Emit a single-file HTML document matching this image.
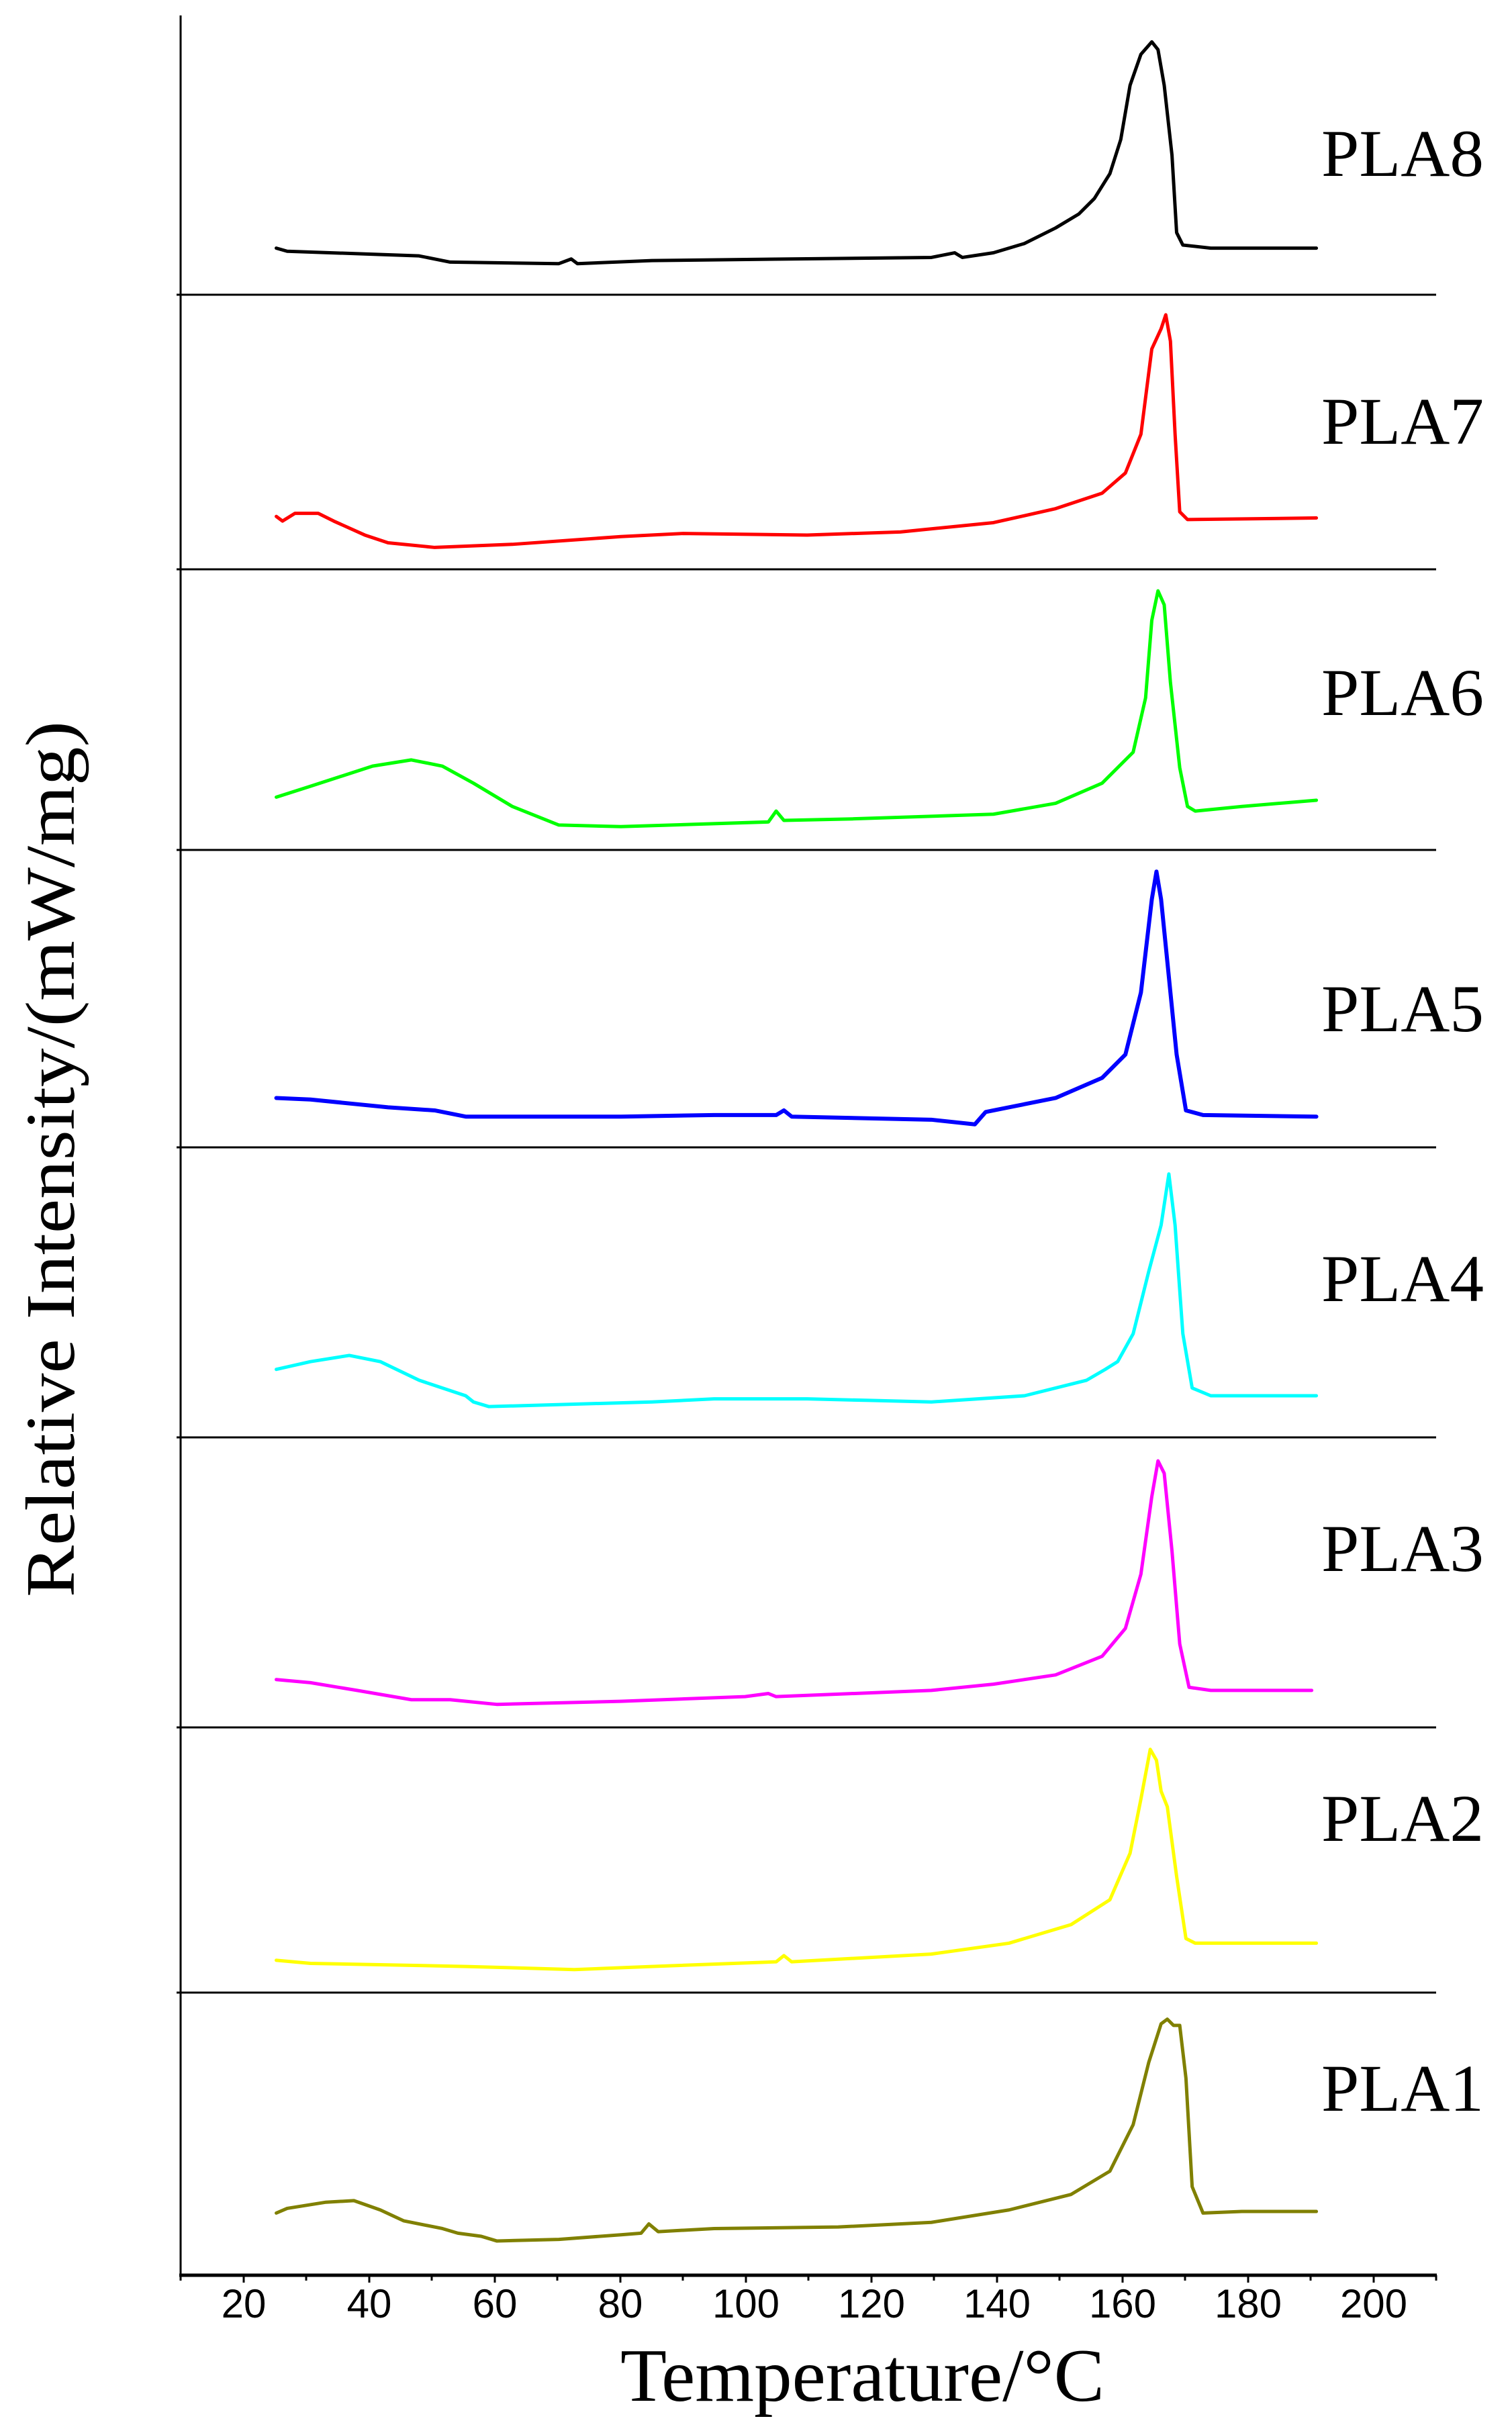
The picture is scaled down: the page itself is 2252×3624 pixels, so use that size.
<!DOCTYPE html>
<html><head><style>html,body{margin:0;padding:0;background:#fff}svg{display:block}</style></head>
<body>
<svg width="2252" height="3624" viewBox="0 0 2252 3624" xmlns="http://www.w3.org/2000/svg">
<rect width="2252" height="3624" fill="#fff"/>
<g stroke="#000" fill="none">
<line x1="269" y1="23" x2="269" y2="3390" stroke-width="3"/>
<line x1="267" y1="3389" x2="2140" y2="3389" stroke-width="5"/>
<g stroke-width="3">
<line x1="263" y1="439" x2="2139" y2="439"/>
<line x1="263" y1="848" x2="2139" y2="848"/>
<line x1="263" y1="1266" x2="2139" y2="1266"/>
<line x1="263" y1="1709" x2="2139" y2="1709"/>
<line x1="263" y1="2141" x2="2139" y2="2141"/>
<line x1="263" y1="2573" x2="2139" y2="2573"/>
<line x1="263" y1="2968" x2="2139" y2="2968"/>
</g>
<g stroke-width="3">
<line x1="269" y1="3389" x2="269" y2="3397"/>
<line x1="363" y1="3389" x2="363" y2="3400"/>
<line x1="456" y1="3389" x2="456" y2="3397"/>
<line x1="550" y1="3389" x2="550" y2="3400"/>
<line x1="643" y1="3389" x2="643" y2="3397"/>
<line x1="737" y1="3389" x2="737" y2="3400"/>
<line x1="830" y1="3389" x2="830" y2="3397"/>
<line x1="924" y1="3389" x2="924" y2="3400"/>
<line x1="1017" y1="3389" x2="1017" y2="3397"/>
<line x1="1111" y1="3389" x2="1111" y2="3400"/>
<line x1="1204" y1="3389" x2="1204" y2="3397"/>
<line x1="1298" y1="3389" x2="1298" y2="3400"/>
<line x1="1391" y1="3389" x2="1391" y2="3397"/>
<line x1="1485" y1="3389" x2="1485" y2="3400"/>
<line x1="1578" y1="3389" x2="1578" y2="3397"/>
<line x1="1672" y1="3389" x2="1672" y2="3400"/>
<line x1="1765" y1="3389" x2="1765" y2="3397"/>
<line x1="1859" y1="3389" x2="1859" y2="3400"/>
<line x1="1952" y1="3389" x2="1952" y2="3397"/>
<line x1="2046" y1="3389" x2="2046" y2="3400"/>
<line x1="2139" y1="3389" x2="2139" y2="3397"/>
</g>
</g>
<g font-family="Liberation Sans, Arial, sans-serif" font-size="60" text-anchor="middle" fill="#000">
<text x="363" y="3452">20</text><text x="550" y="3452">40</text><text x="737" y="3452">60</text>
<text x="924" y="3452">80</text><text x="1111" y="3452">100</text><text x="1298" y="3452">120</text>
<text x="1485" y="3452">140</text><text x="1672" y="3452">160</text><text x="1859" y="3452">180</text>
<text x="2046" y="3452">200</text>
</g>
<g font-family="Liberation Serif, Times New Roman, serif" fill="#000">
<text x="924" y="3576" font-size="112" textLength="721" lengthAdjust="spacingAndGlyphs">Temperature/°C</text>
<text transform="translate(110,2379) rotate(-90)" font-size="104" textLength="1305" lengthAdjust="spacingAndGlyphs">Relative Intensity/(mW/mg)</text>
<g font-size="100">
<text x="1968" y="262" textLength="242" lengthAdjust="spacingAndGlyphs">PLA8</text>
<text x="1968" y="661" textLength="242" lengthAdjust="spacingAndGlyphs">PLA7</text>
<text x="1968" y="1065" textLength="242" lengthAdjust="spacingAndGlyphs">PLA6</text>
<text x="1968" y="1536" textLength="242" lengthAdjust="spacingAndGlyphs">PLA5</text>
<text x="1968" y="1938" textLength="242" lengthAdjust="spacingAndGlyphs">PLA4</text>
<text x="1968" y="2340" textLength="242" lengthAdjust="spacingAndGlyphs">PLA3</text>
<text x="1968" y="2742" textLength="242" lengthAdjust="spacingAndGlyphs">PLA2</text>
<text x="1968" y="3144" textLength="242" lengthAdjust="spacingAndGlyphs">PLA1</text>
</g>
</g>
<g transform="matrix(2.312,0,0,2.31,0,0)" fill="none" stroke-linejoin="round" stroke-linecap="round">
<polyline vector-effect="non-scaling-stroke" stroke="#000" stroke-width="5" points="178,160 185,162 270,165 290,169 360,170 368,167 372,170 420,168 600,166 615,163 620,166 640,163 660,157 680,147 695,138 705,128 715,112 722,90 728,55 735,35 742,27 746,32 750,55 755,100 758,150 762,158 780,160 848,160"/>
<polyline vector-effect="non-scaling-stroke" stroke="#f00" stroke-width="5" points="178,333 182,336 190,331 205,331 215,336 235,345 250,350 280,353 330,351 400,346 440,344 520,345 580,343 640,337 680,328 710,318 725,305 735,280 742,225 748,212 751,203 754,220 757,280 760,330 765,335 848,334"/>
<polyline vector-effect="non-scaling-stroke" stroke="#0f0" stroke-width="5" points="178,514 200,507 240,494 265,490 285,494 305,505 330,520 360,532 400,533 495,530 500,523 505,529 550,528 640,525 680,518 710,505 730,485 738,450 742,400 746,381 750,390 754,440 760,495 765,520 770,523 800,520 848,516"/>
<polyline vector-effect="non-scaling-stroke" stroke="#00f" stroke-width="6" points="178,708 200,709 250,714 280,716 300,720 400,720 460,719 500,719 505,716 510,720 600,722 628,725 635,717 680,708 710,695 725,680 735,640 742,580 745,562 748,580 752,620 758,680 764,716 775,719 848,720"/>
<polyline vector-effect="non-scaling-stroke" stroke="#0ff" stroke-width="5" points="178,883 200,878 225,874 245,878 270,890 300,900 305,904 315,907 350,906 420,904 460,902 520,902 560,903 600,904 660,900 700,890 712,883 720,878 730,860 740,820 748,790 753,757 757,790 762,860 768,895 780,900 848,900"/>
<polyline vector-effect="non-scaling-stroke" stroke="#f0f" stroke-width="5" points="178,1083 200,1085 230,1090 265,1096 290,1096 320,1099 400,1097 480,1094 495,1092 500,1094 600,1090 640,1086 680,1080 710,1068 725,1050 735,1015 742,965 746,942 750,950 755,1000 760,1060 766,1088 780,1090 845,1090"/>
<polyline vector-effect="non-scaling-stroke" stroke="#ff0" stroke-width="5" points="178,1264 200,1266 300,1268 370,1270 420,1268 500,1265 505,1261 510,1265 600,1260 650,1253 690,1241 715,1225 728,1195 735,1160 741,1128 745,1135 748,1155 752,1165 758,1210 764,1250 770,1253 848,1253"/>
<polyline vector-effect="non-scaling-stroke" stroke="#808000" stroke-width="5" points="178,1427 185,1424 210,1420 228,1419 245,1425 260,1432 285,1437 295,1440 310,1442 320,1445 360,1444 400,1441 413,1440 418,1434 424,1439 460,1437 540,1436 600,1433 650,1425 690,1415 715,1400 730,1370 740,1330 748,1305 752,1302 756,1306 760,1306 764,1340 768,1410 775,1427 800,1426 848,1426"/>
</g>
</svg>
</body></html>
